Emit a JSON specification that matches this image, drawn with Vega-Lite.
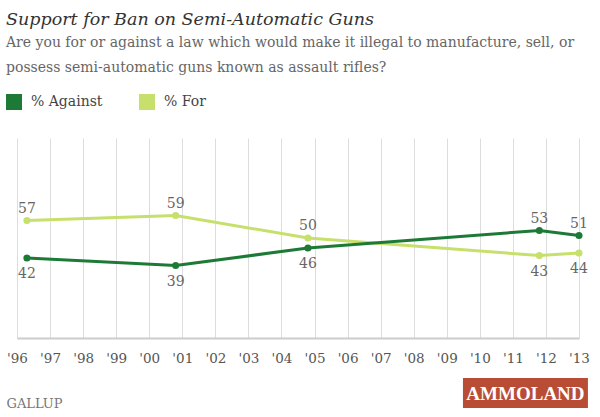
{
  "$schema": "https://vega.github.io/schema/vega-lite/v6.json",
  "width": 562,
  "height": 200,
  "autosize": {"type": "none"},
  "padding": {"left": 17, "top": 138, "right": 21, "bottom": 79},
  "background": "white",
  "title": {
    "text": "Support for Ban on Semi-Automatic Guns",
    "subtitle": ["Are you for or against a law which would make it illegal to manufacture, sell, or", "possess semi-automatic guns known as assault rifles?"],
    "anchor": "start",
    "frame": "group",
    "dx": -11,
    "offset": 19,
    "font": "DejaVu Serif",
    "fontStyle": "italic",
    "fontWeight": "normal",
    "fontSize": 17.5,
    "color": "#333333",
    "subtitleFont": "DejaVu Serif",
    "subtitleFontSize": 14,
    "subtitleColor": "#666666",
    "subtitleLineHeight": 25,
    "subtitlePadding": 8
  },
  "data": {
    "values": [
      {"date": 1996.3, "series": "% For", "pct": 57},
      {"date": 2000.8, "series": "% For", "pct": 59},
      {"date": 2004.8, "series": "% For", "pct": 50},
      {"date": 2011.8, "series": "% For", "pct": 43},
      {"date": 2013.0, "series": "% For", "pct": 44},
      {"date": 1996.3, "series": "% Against", "pct": 42},
      {"date": 2000.8, "series": "% Against", "pct": 39},
      {"date": 2004.8, "series": "% Against", "pct": 46},
      {"date": 2011.8, "series": "% Against", "pct": 53},
      {"date": 2013.0, "series": "% Against", "pct": 51}
    ]
  },
  "layer": [
    {
      "encoding": {
        "x": {
          "field": "date",
          "type": "quantitative",
          "title": "GALLUP",
          "scale": {"domain": [1996, 2013], "nice": false, "zero": false}
        },
        "y": {
          "field": "pct",
          "type": "quantitative",
          "scale": {"domain": [10, 90], "nice": false, "zero": false}
        },
        "color": {
          "field": "series",
          "type": "nominal",
          "scale": {"domain": ["% Against", "% For"], "range": ["#1d7a36", "#c7e06c"]},
          "legend": {
            "title": null,
            "orient": "none",
            "direction": "horizontal",
            "legendX": -11,
            "legendY": -44,
            "symbolType": "square",
            "symbolSize": 256,
            "symbolStrokeWidth": 0,
            "labelFont": "DejaVu Serif",
            "labelFontSize": 14,
            "labelColor": "#444444",
            "labelOffset": 9,
            "columnPadding": 36
          }
        }
      },
      "layer": [
        {"mark": {"type": "line", "strokeWidth": 3}},
        {"mark": {"type": "point", "filled": true, "size": 50, "opacity": 1}},
        {
          "transform": [{"filter": "datum.pct >= 50"}],
          "mark": {"type": "text", "font": "DejaVu Serif", "fontSize": 14, "baseline": "alphabetic", "dy": -8},
          "encoding": {"text": {"field": "pct", "type": "quantitative"}, "color": {"value": "#666666"}}
        },
        {
          "transform": [{"filter": "datum.pct < 50"}],
          "mark": {"type": "text", "font": "DejaVu Serif", "fontSize": 14, "baseline": "top", "dy": 9},
          "encoding": {"text": {"field": "pct", "type": "quantitative"}, "color": {"value": "#666666"}}
        }
      ]
    },
    {
      "data": {"values": [{"label": "AMMOLAND"}]},
      "mark": {"type": "rect", "color": "#b84c34"},
      "encoding": {
        "x": {"datum": 2009.49, "type": "quantitative", "title": "GALLUP"},
        "x2": {"datum": 2013.27},
        "y": {"datum": -6, "type": "quantitative"},
        "y2": {"datum": -18}
      }
    },
    {
      "data": {"values": [{"label": "AMMOLAND"}]},
      "mark": {"type": "text", "color": "white", "font": "Liberation Serif", "fontWeight": "bold", "fontSize": 19, "baseline": "middle", "align": "center"},
      "encoding": {
        "x": {"datum": 2011.38, "type": "quantitative", "title": "GALLUP"},
        "y": {"datum": -12.2, "type": "quantitative"},
        "text": {"field": "label", "type": "nominal"}
      }
    }
  ],
  "config": {
    "view": {"stroke": null},
    "axisY": {"disable": true},
    "axisX": {
      "values": [1996, 1997, 1998, 1999, 2000, 2001, 2002, 2003, 2004, 2005, 2006, 2007, 2008, 2009, 2010, 2011, 2012, 2013],
      "labelExpr": "\"'\" + substring(toString(datum.value), 2, 4)",
      "grid": true,
      "gridColor": "#dddddd",
      "gridWidth": 1,
      "ticks": false,
      "domainColor": "#cccccc",
      "domainWidth": 2,
      "labelFont": "DejaVu Serif",
      "labelFontSize": 13.5,
      "labelColor": "#555555",
      "labelPadding": 13,
      "labelFlush": false,
      "labelOverlap": false,
      "titleFont": "DejaVu Serif",
      "titleFontSize": 13,
      "titleFontWeight": "normal",
      "titleColor": "#777777",
      "titleAnchor": "start",
      "titleAlign": "left",
      "titleBaseline": "middle",
      "titleX": -11,
      "titleY": 65
    }
  }
}
